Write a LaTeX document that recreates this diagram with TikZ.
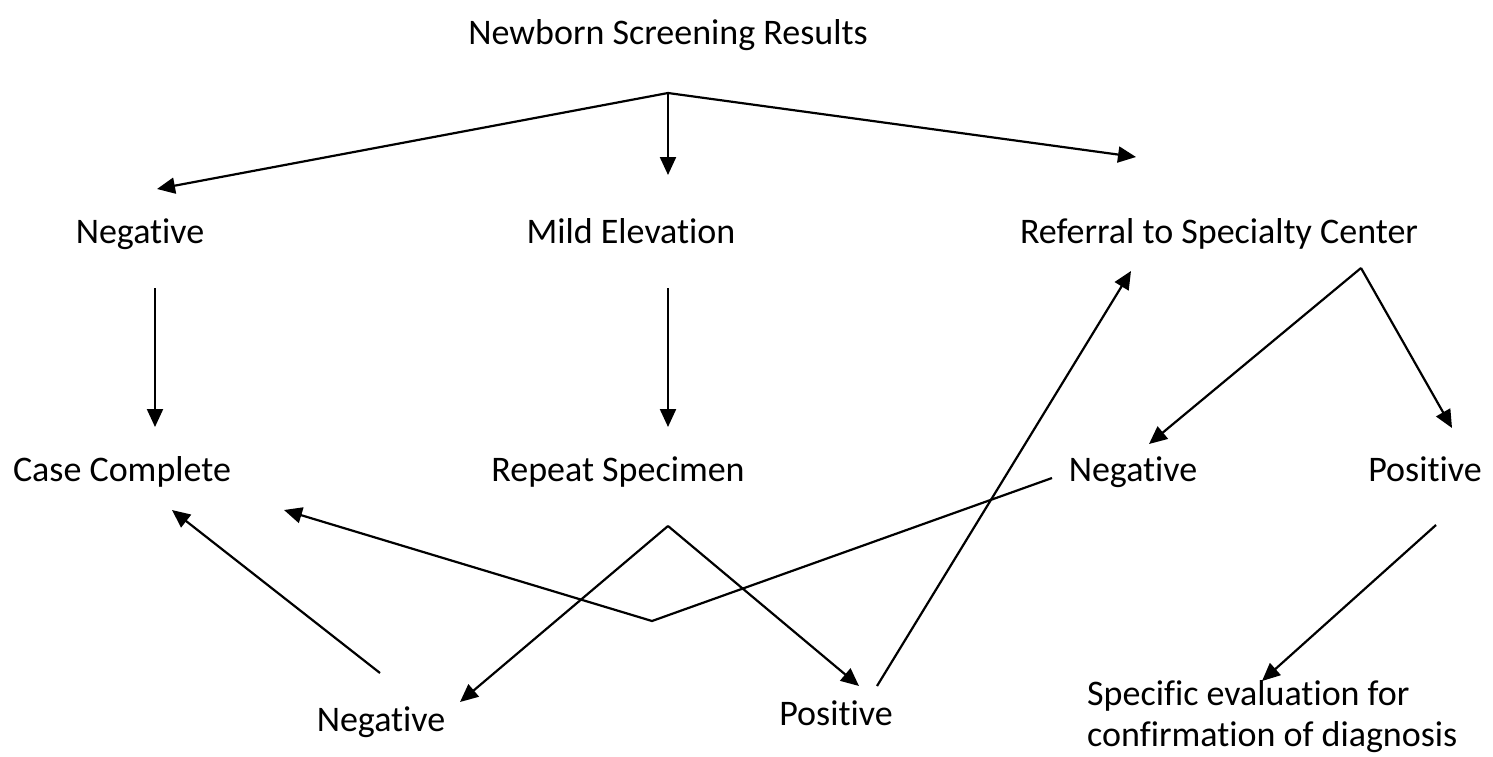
\documentclass[tikz,border=0pt]{standalone}
\usepackage{fontspec}
\setmainfont[Ligatures=CommonOff]{Carlito}
\usetikzlibrary{arrows.meta}
\begin{document}
\begin{tikzpicture}[x=1pt,y=-1pt,
  lbl/.style={font=\fontsize{36}{41}\selectfont, inner sep=0pt, anchor=base},
  conn/.style={line width=2.2pt, line join=miter},
  arr/.style={conn, -{Triangle[length=18pt,width=16pt]}}]
\useasboundingbox (0,0) rectangle (1493,756);
% texts
\node[lbl] (title) at (668,44) {Newborn Screening Results};
\node[lbl] (neg1) at (140,243) {Negative};
\node[lbl] (mild) at (631,243) {Mild Elevation};
\node[lbl] (ref) at (1219,243) {Referral to Specialty Center};
\node[lbl] (cc) at (122,481) {Case Complete};
\node[lbl] (rep) at (618,481) {Repeat Specimen};
\node[lbl] (neg2) at (1133,481) {Negative};
\node[lbl] (pos2) at (1425,481) {Positive};
\node[lbl] (neg3) at (381,731) {Negative};
\node[lbl] (pos3) at (836,725) {Positive};
\node[lbl, anchor=base west, align=left] (spec) at (1087,746) {Specific evaluation for\\confirmation of diagnosis};
% connector points
\coordinate (t0) at (668,93);
\coordinate (t1) at (157,189);
\coordinate (t2) at (668,175);
\coordinate (t3) at (1136,157);
\coordinate (a1) at (155,288);
\coordinate (a2) at (155,427);
\coordinate (b1) at (668,288);
\coordinate (b2) at (668,427);
\coordinate (r0) at (1361,268);
\coordinate (r1) at (1149,444);
\coordinate (r2) at (1452,428);
\coordinate (p0) at (1436,525);
\coordinate (p1) at (1262,681);
\coordinate (s0) at (668,526);
\coordinate (s1) at (460,702);
\coordinate (s2) at (859,686);
\coordinate (n0) at (380,673);
\coordinate (n1) at (172,510);
\coordinate (m0) at (1052,478);
\coordinate (m1) at (652,621);
\coordinate (m2) at (284,510);
\coordinate (q0) at (877,686);
\coordinate (q1) at (1131,271);
% connectors
\draw[arr] (t0) -- (t1);
\draw[arr] (t0) -- (t2);
\draw[arr] (t0) -- (t3);
\draw[arr] (a1) -- (a2);
\draw[arr] (b1) -- (b2);
\draw[arr] (r0) -- (r1);
\draw[arr] (r0) -- (r2);
\draw[arr] (p0) -- (p1);
\draw[arr] (s0) -- (s1);
\draw[arr] (s0) -- (s2);
\draw[arr] (n0) -- (n1);
\draw[arr] (m0) -- (m1) -- (m2);
\draw[arr] (q0) -- (q1);
\end{tikzpicture}
\end{document}
